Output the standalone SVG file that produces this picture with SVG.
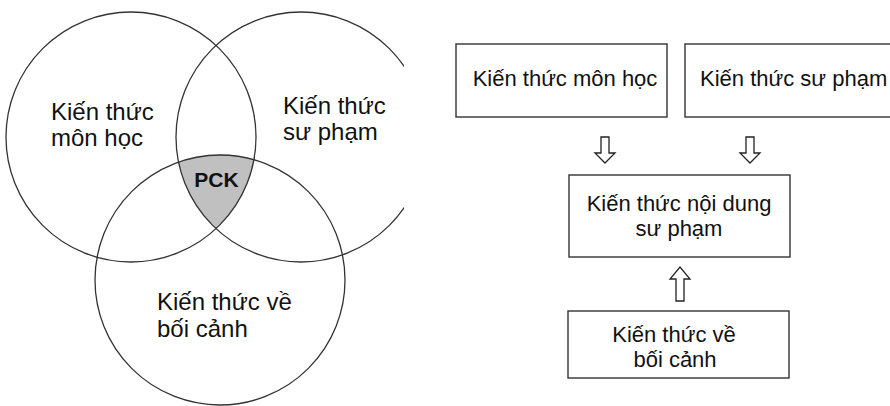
<svg xmlns="http://www.w3.org/2000/svg" width="890" height="406" viewBox="0 0 890 406">
<style>
  .c { fill: none; stroke: #333; stroke-width: 1.3; }
  .t { font-family: "Liberation Sans", Arial, sans-serif; fill: #111; }
  .vt { font-size: 24px; }
  .bt { font-size: 22px; }
  .box { fill: #fff; stroke: #333; stroke-width: 1.4; }
  .arr { fill: #fff; stroke: #222; stroke-width: 1.3; stroke-linejoin: miter; }
</style>
<defs>
  <clipPath id="vclip"><rect x="0" y="0" width="404" height="406"/></clipPath>
</defs>
<rect width="890" height="406" fill="#fff"/>
<g id="venn" clip-path="url(#vclip)">
  <g id="pck-region">
    <path d="M178.5,162.1 A125,125 0 0 1 254,159.7 A125,125 0 0 1 216,228.6 A125,125 0 0 1 178.5,162.1 Z" fill="#c0c0c0" stroke="none"/>
  </g>
  <g id="circle-mon-hoc">
    <circle class="c" cx="131" cy="137" r="125"/>
    <text class="t vt" x="51" y="120">Kiến thức</text>
    <text class="t vt" x="51" y="146">môn học</text>
  </g>
  <g id="circle-su-pham">
    <circle class="c" cx="301" cy="137" r="125"/>
    <text class="t vt" x="283" y="114">Kiến thức</text>
    <text class="t vt" x="283" y="140">sư phạm</text>
  </g>
  <g id="circle-boi-canh">
    <circle class="c" cx="220" cy="280" r="125"/>
    <text class="t vt" x="157" y="310">Kiến thức về</text>
    <text class="t vt" x="157" y="337">bối cảnh</text>
  </g>
  <g id="pck-label">
    <text class="t" x="216.5" y="187" font-size="21" font-weight="bold" text-anchor="middle">PCK</text>
  </g>
</g>
<g id="connectors">
  <polygon class="arr" points="601,137 609,137 609,153 615,153 605,163 595,153 601,153"/>
  <polygon class="arr" points="746,137 754,137 754,153 760,153 750,163 740,153 746,153"/>
  <polygon class="arr" points="676,301 684,301 684,279 690,279 680,267 670,279 676,279"/>
</g>
<g id="box-mon-hoc">
  <rect class="box" x="456" y="44" width="211" height="73"/>
  <text class="t bt" x="565" y="86" text-anchor="middle">Kiến thức môn học</text>
</g>
<g id="box-su-pham">
  <rect class="box" x="685" y="44" width="215" height="73"/>
  <text class="t bt" x="700" y="86">Kiến thức sư phạm</text>
</g>
<g id="box-pck">
  <rect class="box" x="569" y="175" width="221" height="82"/>
  <text class="t bt" x="679" y="211" text-anchor="middle">Kiến thức nội dung</text>
  <text class="t bt" x="679" y="236" text-anchor="middle">sư phạm</text>
</g>
<g id="box-boi-canh">
  <rect class="box" x="568" y="311" width="221" height="67"/>
  <text class="t bt" x="674" y="342" text-anchor="middle">Kiến thức về</text>
  <text class="t bt" x="675" y="367" text-anchor="middle">bối cảnh</text>
</g>
</svg>
